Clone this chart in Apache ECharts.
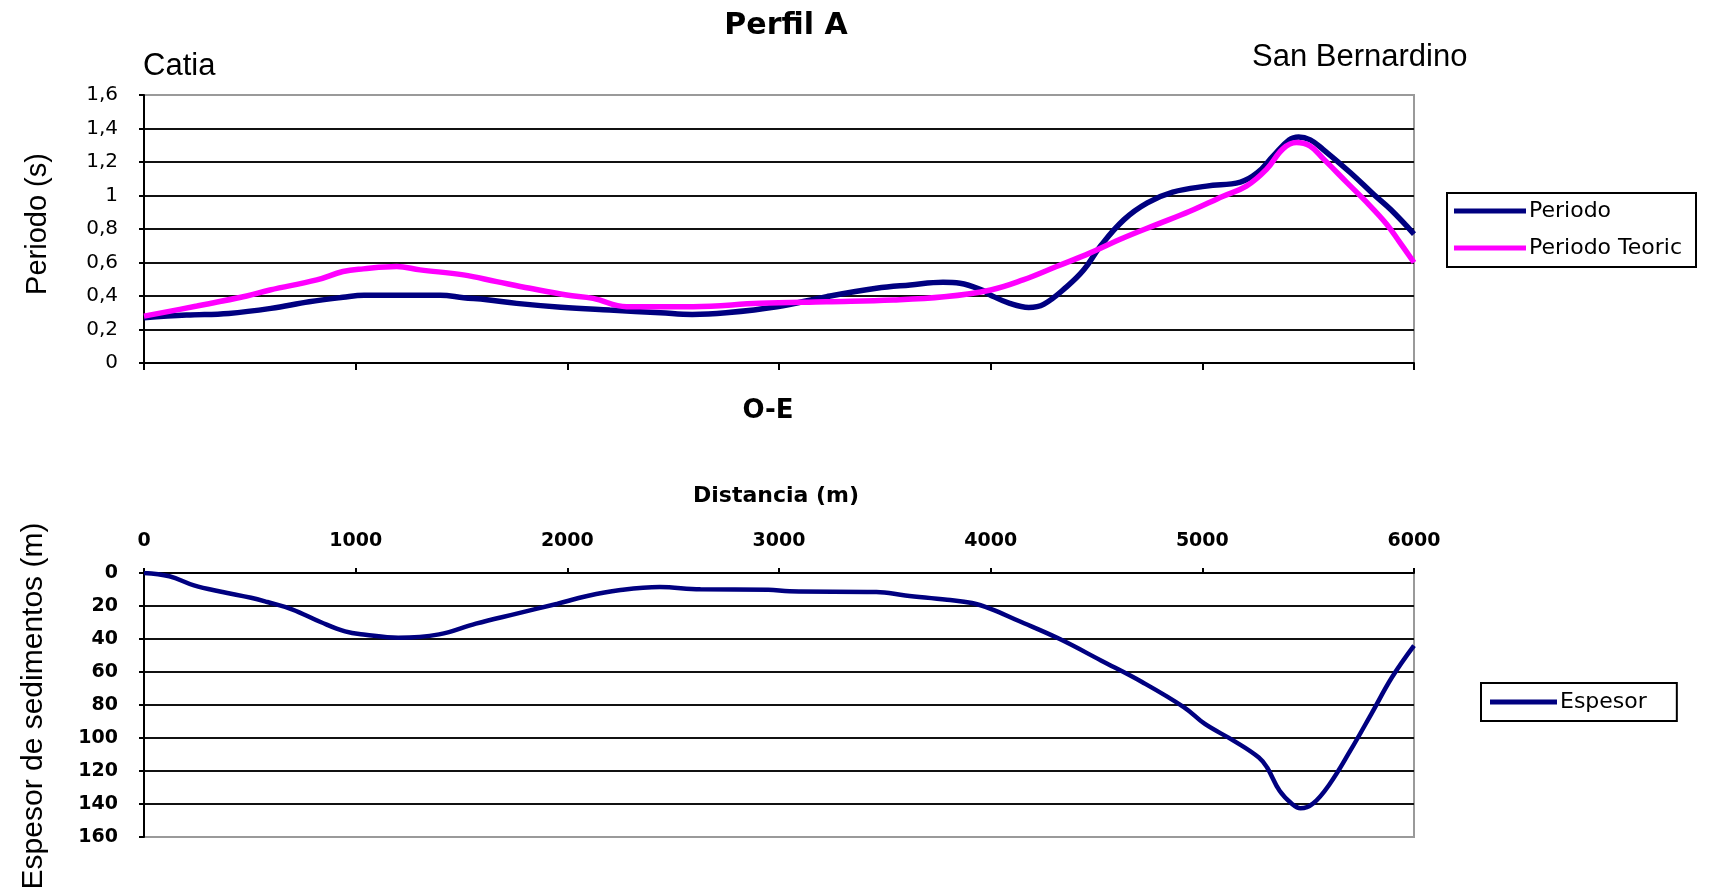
<!DOCTYPE html>
<html>
<head>
<meta charset="utf-8">
<script src="https://cdn.jsdelivr.net/npm/echarts@6/dist/echarts.min.js"></script>
<style>
html,body{margin:0;padding:0;background:#ffffff;}
#c{width:1720px;height:893px;}
</style>
</head>
<body>
<div id="c"></div>
<script>
// ---------- data ----------
const distTickLabels = ['0', '1000', '2000', '3000', '4000', '5000', '6000'];
const periodoTickLabels = ['0', '0,2', '0,4', '0,6', '0,8', '1', '1,2', '1,4', '1,6'];
const espesorTickLabels = ['0', '20', '40', '60', '80', '100', '120', '140', '160'];

const periodoDist = [0, 200, 400, 600, 780, 940, 1040, 1400, 1510, 1620, 1760, 1970, 2200, 2440, 2590, 2750, 2990, 3225, 3460, 3620, 3775, 3855, 3965, 4000, 4090, 4180, 4250, 4360, 4440, 4520, 4630, 4740, 4860, 5020, 5180, 5260, 5335, 5410, 5455, 5510, 5570, 5700, 5810, 5890, 6000];
const periodoVals = [0.27, 0.286, 0.296, 0.326, 0.366, 0.392, 0.404, 0.404, 0.39, 0.378, 0.356, 0.333, 0.316, 0.30, 0.29, 0.30, 0.336, 0.396, 0.446, 0.466, 0.482, 0.476, 0.432, 0.405, 0.356, 0.332, 0.35, 0.456, 0.556, 0.70, 0.856, 0.956, 1.02, 1.056, 1.08, 1.136, 1.236, 1.332, 1.35, 1.332, 1.276, 1.136, 1.006, 0.916, 0.77];

const teoricoDist = [0, 250, 485, 595, 816, 940, 1036, 1194, 1304, 1509, 1666, 1824, 1997, 2122, 2280, 2594, 2909, 3225, 3540, 3780, 4000, 4153, 4311, 4468, 4626, 4783, 4941, 5098, 5208, 5303, 5382, 5445, 5508, 5571, 5681, 5776, 5870, 5933, 6000];
const teoricoVals = [0.28, 0.34, 0.40, 0.436, 0.496, 0.546, 0.562, 0.576, 0.556, 0.526, 0.486, 0.446, 0.406, 0.386, 0.336, 0.336, 0.356, 0.366, 0.376, 0.395, 0.436, 0.496, 0.576, 0.656, 0.746, 0.826, 0.906, 0.996, 1.056, 1.156, 1.28, 1.316, 1.296, 1.22, 1.08, 0.96, 0.83, 0.72, 0.60];

const espesorDist = [0, 120, 236, 371, 506, 583, 699, 834, 950, 1046, 1201, 1394, 1568, 1761, 1954, 2089, 2243, 2436, 2629, 2950, 3050, 3460, 3597, 3794, 3912, 4000, 4128, 4324, 4521, 4717, 4914, 5012, 5149, 5267, 5306, 5365, 5424, 5464, 5523, 5601, 5699, 5798, 5896, 6000];
const espesorVals = [0, 2, 7.5, 11.5, 15, 17.6, 22, 29.7, 35.4, 37.4, 39.2, 37.2, 30.7, 24.6, 18.6, 14.1, 10.5, 8.5, 9.9, 10.1, 11.1, 11.5, 13.6, 16.2, 18.2, 21.7, 28.8, 39.9, 53, 66.2, 81.4, 91.5, 101.7, 111.8, 117.9, 132, 140, 142.6, 139.7, 128, 107.7, 85.5, 63.2, 44];

// ---------- helpers ----------
function zip(xs, ys) { return xs.map((x, i) => [x, ys[i]]); }

const NAVY = '#000080';
const MAGENTA = '#ff00ff';
const GRID_LINE = '#111111';
const BORDER = '#9a9a9a';
const splitColors = [GRID_LINE, GRID_LINE, GRID_LINE, GRID_LINE, GRID_LINE, GRID_LINE, GRID_LINE, GRID_LINE, BORDER];

const chart = echarts.init(document.getElementById('c'), null, { renderer: 'canvas' });

const option = {
  animation: false,
  backgroundColor: '#ffffff',
  textStyle: { fontFamily: 'DejaVu Sans', color: '#000' },
  grid: [
    { left: 144, top: 95, width: 1270, height: 268, show: true, borderColor: BORDER, borderWidth: 2, backgroundColor: '#fff' },
    { left: 144, top: 573, width: 1270, height: 264, show: true, borderColor: BORDER, borderWidth: 2, backgroundColor: '#fff' }
  ],
  xAxis: [
    {
      gridIndex: 0, type: 'value', min: 0, max: 6000, interval: 1000,
      axisLine: { show: true, onZero: false, lineStyle: { color: '#000', width: 2 } },
      axisTick: { show: true, inside: false, length: 7, lineStyle: { color: '#000', width: 2 } },
      axisLabel: { show: false },
      splitLine: { show: false }
    },
    {
      gridIndex: 1, type: 'value', position: 'top', min: 0, max: 6000, interval: 1000,
      axisLine: { show: true, onZero: false, lineStyle: { color: '#000', width: 2 } },
      axisTick: { show: true, inside: false, length: 5, lineStyle: { color: '#000', width: 2 } },
      axisLabel: {
        show: true, margin: 22, fontFamily: 'DejaVu Sans', fontWeight: 'bold', fontSize: 19, color: '#000',
        formatter: v => distTickLabels[Math.round(v / 1000)]
      },
      splitLine: { show: false }
    }
  ],
  yAxis: [
    {
      gridIndex: 0, type: 'value', min: 0, max: 1.6, interval: 0.2,
      axisLine: { show: true, onZero: false, lineStyle: { color: '#000', width: 2 } },
      axisTick: { show: true, inside: false, length: 5, lineStyle: { color: '#000', width: 2 } },
      axisLabel: {
        show: true, margin: 26, fontFamily: 'DejaVu Sans', fontSize: 20, color: '#000',
        formatter: v => periodoTickLabels[Math.round(v * 5)]
      },
      splitLine: { show: true, lineStyle: { color: splitColors, width: 2 } }
    },
    {
      gridIndex: 1, type: 'value', inverse: true, min: 0, max: 160, interval: 20,
      axisLine: { show: true, onZero: false, lineStyle: { color: '#000', width: 2 } },
      axisTick: { show: true, inside: false, length: 5, lineStyle: { color: '#000', width: 2 } },
      axisLabel: {
        show: true, margin: 26, fontFamily: 'DejaVu Sans', fontWeight: 'bold', fontSize: 19, color: '#000',
        formatter: v => espesorTickLabels[Math.round(v / 20)]
      },
      splitLine: { show: true, lineStyle: { color: splitColors, width: 2 } }
    }
  ],
  legend: [
    {
      data: ['Periodo', 'Periodo Teoric'],
      orient: 'vertical', left: 1447, top: 193,
      icon: 'rect', itemWidth: 72, itemHeight: 5, itemGap: 15,
      padding: [7, 14, 8, 7],
      borderColor: '#000', borderWidth: 2, backgroundColor: '#fff',
      textStyle: { fontFamily: 'DejaVu Sans', fontSize: 22, color: '#000', padding: [0, 0, 0, -2] },
      selectedMode: false
    },
    {
      data: ['Espesor'],
      orient: 'vertical', left: 1481, top: 683,
      icon: 'rect', itemWidth: 67, itemHeight: 5,
      padding: [8, 30, 8, 9],
      borderColor: '#000', borderWidth: 2, backgroundColor: '#fff',
      textStyle: { fontFamily: 'DejaVu Sans', fontSize: 22, color: '#000', padding: [0, 0, 0, -2] },
      selectedMode: false
    }
  ],
  series: [
    {
      name: 'Periodo', type: 'line', xAxisIndex: 0, yAxisIndex: 0,
      data: zip(periodoDist, periodoVals),
      smooth: 0.4, showSymbol: false, symbol: 'none',
      lineStyle: { color: NAVY, width: 5.5 }, itemStyle: { color: NAVY }, z: 3
    },
    {
      name: 'Periodo Teoric', type: 'line', xAxisIndex: 0, yAxisIndex: 0,
      data: zip(teoricoDist, teoricoVals),
      smooth: 0.4, showSymbol: false, symbol: 'none',
      lineStyle: { color: MAGENTA, width: 5.5 }, itemStyle: { color: MAGENTA }, z: 4
    },
    {
      name: 'Espesor', type: 'line', xAxisIndex: 1, yAxisIndex: 1,
      data: zip(espesorDist, espesorVals),
      smooth: 0.4, showSymbol: false, symbol: 'none',
      lineStyle: { color: NAVY, width: 4.5 }, itemStyle: { color: NAVY }, z: 3
    }
  ],
  graphic: [
    { type: 'text', x: 786, y: 26, style: { text: 'Perfil A', font: 'bold 30px "DejaVu Sans"', fill: '#000', textAlign: 'center', textVerticalAlign: 'middle' } },
    { type: 'text', x: 143, y: 66, style: { text: 'Catia', font: '31px "Liberation Sans"', fill: '#000', textAlign: 'left', textVerticalAlign: 'middle' } },
    { type: 'text', x: 1252, y: 57.5, style: { text: 'San Bernardino', font: '31px "Liberation Sans"', fill: '#000', textAlign: 'left', textVerticalAlign: 'middle' } },
    { type: 'text', x: 38, y: 224, rotation: Math.PI / 2, style: { text: 'Periodo (s)', font: '29px "Liberation Sans"', fill: '#000', textAlign: 'center', textVerticalAlign: 'middle' } },
    { type: 'text', x: 768, y: 411, style: { text: 'O-E', font: 'bold 26px "DejaVu Sans"', fill: '#000', textAlign: 'center', textVerticalAlign: 'middle' } },
    { type: 'text', x: 776, y: 496, style: { text: 'Distancia (m)', font: 'bold 22px "DejaVu Sans"', fill: '#000', textAlign: 'center', textVerticalAlign: 'middle' } },
    { type: 'text', x: 34, y: 706, rotation: Math.PI / 2, style: { text: 'Espesor de sedimentos (m)', font: '30px "Liberation Sans"', fill: '#000', textAlign: 'center', textVerticalAlign: 'middle' } }
  ]
};

chart.setOption(option);
</script>
</body>
</html>
